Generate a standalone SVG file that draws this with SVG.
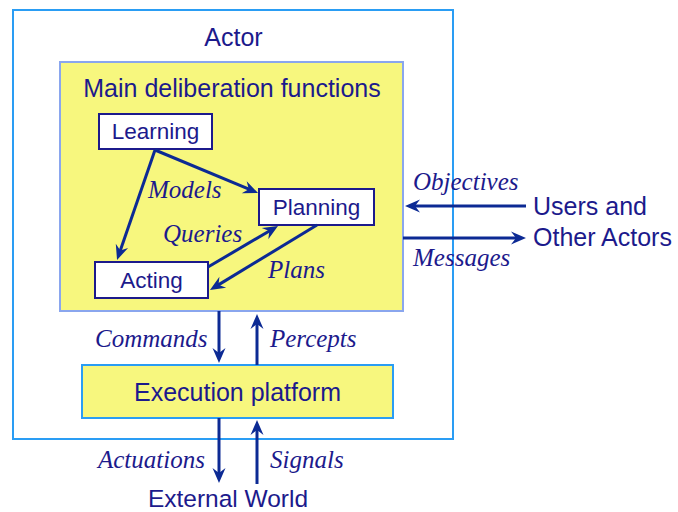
<svg xmlns="http://www.w3.org/2000/svg" width="678" height="512" viewBox="0 0 678 512">
<defs>
<style>
.sans{font-family:"Liberation Sans",Arial,sans-serif;fill:#1c1a8c}
.it{font-family:"Liberation Serif","Times New Roman",serif;font-style:italic;font-size:25px;fill:#1c1a8c}
.big{font-size:25px}
.node{font-size:22.5px}
.box{fill:#ffffff;stroke:#1c1a8c;stroke-width:2}
.yel{fill:#f7f77e}
.arr{stroke:#0c2a94;stroke-width:3;fill:none;marker-end:url(#ah)}
</style>
<marker id="ah" viewBox="-16 -8 18 16" refX="-6" refY="0" markerWidth="18" markerHeight="16" markerUnits="userSpaceOnUse" orient="auto">
<path d="M0,0 L-15,-6.5 L-10,0 L-15,6.5 Z" fill="#0c2a94"/>
</marker>
</defs>
<rect width="678" height="512" fill="#ffffff"/>

<g id="actor">
<rect x="13" y="10" width="440" height="429" fill="none" stroke="#2a9df4" stroke-width="2"/>
<text class="sans big" x="233.5" y="46" text-anchor="middle">Actor</text>
</g>

<g id="deliberation">
<rect class="yel" x="60" y="62" width="343" height="249" stroke="#8aa6ee" stroke-width="2"/>
<text class="sans big" x="232" y="97" text-anchor="middle">Main deliberation functions</text>
</g>

<g id="learning">
<rect class="box" x="99" y="114" width="113" height="35"/>
<text class="sans node" x="155.5" y="139" text-anchor="middle">Learning</text>
</g>

<g id="planning">
<rect class="box" x="259" y="189" width="115" height="36"/>
<text class="sans node" x="316.5" y="215" text-anchor="middle">Planning</text>
</g>

<g id="acting">
<rect class="box" x="95" y="262" width="113" height="36"/>
<text class="sans node" x="151.5" y="288" text-anchor="middle">Acting</text>
</g>

<g id="execution">
<rect class="yel" x="82" y="365" width="311" height="53" stroke="#2a9df4" stroke-width="2"/>
<text class="sans big" x="237.5" y="401" text-anchor="middle">Execution platform</text>
</g>

<g id="users">
<text class="sans big" x="533" y="215">Users and</text>
<text class="sans big" x="533" y="246">Other Actors</text>
</g>

<g id="world">
<text class="sans" x="228" y="507" text-anchor="middle" font-size="24.5">External World</text>
</g>

<g id="connectors">
<line class="arr" x1="155" y1="150" x2="252.5" y2="190.7"/>
<line class="arr" x1="155" y1="150" x2="119" y2="254.3"/>
<line class="arr" x1="208" y1="267" x2="272.8" y2="229"/>
<line class="arr" x1="317" y1="225" x2="215.1" y2="286.9"/>
<line class="arr" x1="526" y1="206" x2="411" y2="206"/>
<line class="arr" x1="403" y1="238" x2="520" y2="238"/>
<line class="arr" x1="219" y1="311" x2="219" y2="357"/>
<line class="arr" x1="257" y1="365" x2="257" y2="320"/>
<line class="arr" x1="219" y1="418" x2="219" y2="477"/>
<line class="arr" x1="257" y1="484" x2="257" y2="426"/>
<text class="it" x="148" y="198">Models</text>
<text class="it" x="163" y="242">Queries</text>
<text class="it" x="268" y="278">Plans</text>
<text class="it" x="413" y="190">Objectives</text>
<text class="it" x="413" y="266">Messages</text>
<text class="it" x="95" y="347">Commands</text>
<text class="it" x="270" y="347">Percepts</text>
<text class="it" x="98" y="468">Actuations</text>
<text class="it" x="270" y="468">Signals</text>
</g>
</svg>
